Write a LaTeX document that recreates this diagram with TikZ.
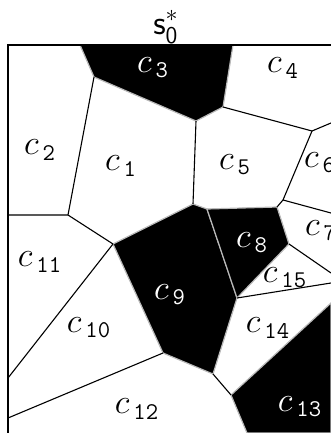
\documentclass[tikz,border=0pt]{standalone}
\usepackage{amsmath,amssymb}
\usepackage{xcolor}
\usepackage{tikz}
\usetikzlibrary{calc}

\begin{document}
\begin{tikzpicture}[x=0.5pt, y=-0.5pt,
    cell/.style={font=\LARGE, inner sep=0pt},
    dark/.style={fill=black, draw=gray!55, line width=0.6pt},
    edge/.style={draw=black, line width=0.55pt}]
  \useasboundingbox (0,0) rectangle (331,433);
  % vertices of the cells
  \coordinate (a) at (80,45);   \coordinate (b) at (233,45);
  \coordinate (c) at (223,107); \coordinate (d) at (196,121);
  \coordinate (e) at (94,77);   \coordinate (f) at (68,215);
  \coordinate (fl) at (8,215);  \coordinate (g) at (113,244);
  \coordinate (h) at (193,204); \coordinate (i) at (207,209);
  \coordinate (j) at (277,207); \coordinate (k) at (283,200);
  \coordinate (m) at (312,131); \coordinate (mr) at (331,123);
  \coordinate (kr) at (331,213); \coordinate (q) at (289,244);
  \coordinate (r) at (237,298); \coordinate (qr) at (331,273);
  \coordinate (rr) at (331,283); \coordinate (u) at (213,374);
  \coordinate (v) at (163,353); \coordinate (gl) at (8,378);
  \coordinate (vl) at (8,418);  \coordinate (yr) at (331,303);
  \coordinate (z) at (231,395); \coordinate (zb) at (247,433);
  % black cells
  \path[dark] (a) -- (b) -- (c) -- (d) -- (e) -- cycle;
  \path[dark] (g) -- (h) -- (i) -- (r) -- (u) -- (v) -- cycle;
  \path[dark] (i) -- (j) -- (q) -- (r) -- cycle;
  \path[dark] (yr) -- (z) -- (zb) -- (331,433) -- cycle;
  % borders between white cells
  \draw[edge] (e) -- (f) -- (fl);
  \draw[edge] (f) -- (g);
  \draw[edge] (d) -- (h);
  \draw[edge] (c) -- (m) -- (mr);
  \draw[edge] (m) -- (k) -- (kr);
  \draw[edge] (k) -- (j);
  \draw[edge] (q) -- (qr);
  \draw[edge] (r) -- (rr);
  \draw[edge] (u) -- (z);
  \draw[edge] (g) -- (gl);
  \draw[edge] (v) -- (vl);
  % frame
  \draw[line width=0.9pt] (8,433) -- (8,45) -- (331,45);
  % title
  \node[font=\LARGE] (title) at (166,27) {$\mathsf{s}_{\mathsf{0}}^{*}$};
  % cell labels
  \node[cell] (c1) at (121,166) {$c_{\,\texttt{1}}$};
  \node[cell] (c2) at (40,150) {$c_{\,\texttt{2}}$};
  \node[cell, white] (c3) at (153,68) {$c_{\,\texttt{3}}$};
  \node[cell] (c4) at (283,68) {$c_{\,\texttt{4}}$};
  \node[cell] (c5) at (235,165) {$c_{\,\texttt{5}}$};
  \node[cell] (c6) at (320,163) {$c_{\,\texttt{6}}$};
  \node[cell] (c7) at (321,231) {$c_{\,\texttt{7}}$};
  \node[cell, white] (c8) at (252,243) {$c_{\,\texttt{8}}$};
  \node[cell, white] (c9) at (170,295) {$c_{\,\texttt{9}}$};
  \node[cell] (c10) at (89,328) {$c_{\,\texttt{10}}$};
  \node[cell] (c11) at (40,262) {$c_{\,\texttt{11}}$};
  \node[cell] (c12) at (137,409) {$c_{\,\texttt{12}}$};
  \node[cell, white] (c13) at (300,407) {$c_{\,\texttt{13}}$};
  \node[cell] (c14) at (268,328) {$c_{\,\texttt{14}}$};
  \node[cell] (c15) at (285,278) {$c_{\,\texttt{15}}$};
\end{tikzpicture}
\end{document}
